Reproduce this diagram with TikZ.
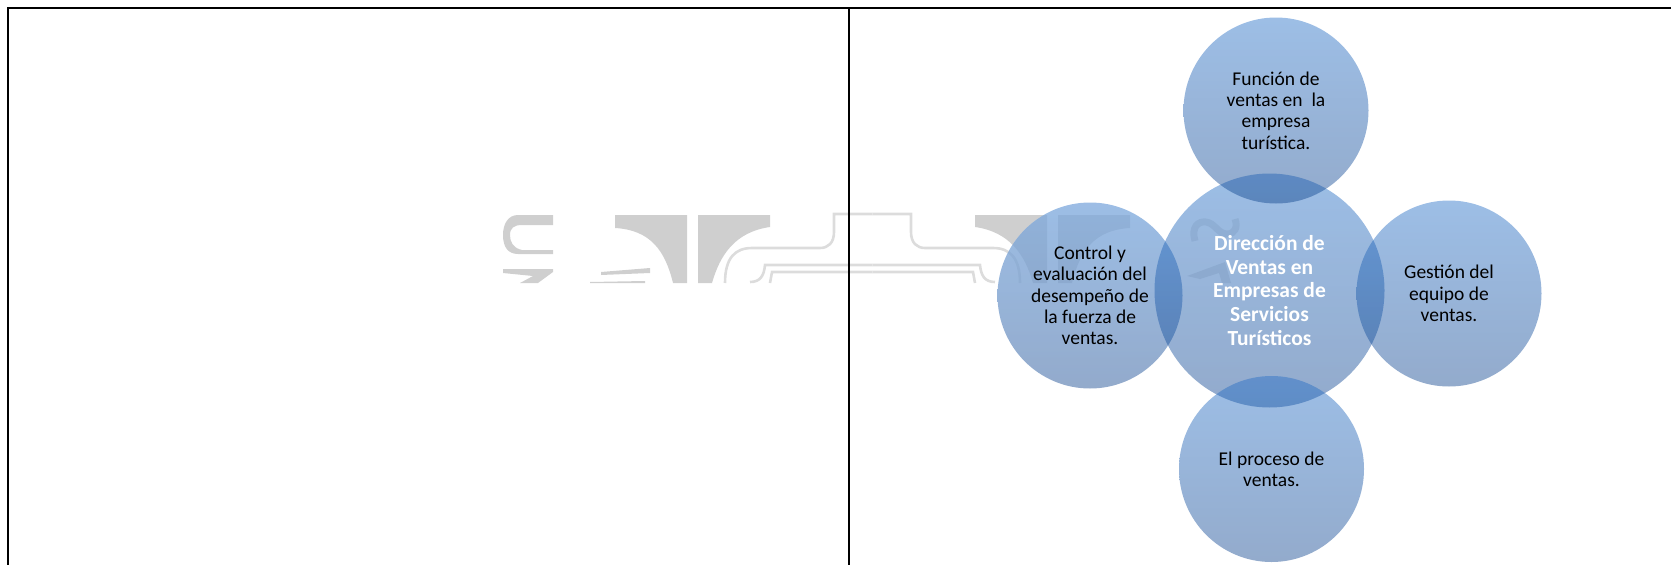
\documentclass[tikz,border=0pt]{standalone}
\usepackage{fontspec}
\setmainfont{Carlito}
\usetikzlibrary{shapes.geometric}
\definecolor{wmgray}{HTML}{CFCFCF}
\definecolor{wmline}{HTML}{DCDCDC}
\definecolor{bubtop}{HTML}{256FC7}
\definecolor{bubbot}{HTML}{0F448E}

\begin{document}
\begin{tikzpicture}[
      x=1pt,y=-1pt,
      every node/.style={font=\fontsize{19.5}{21.3}\selectfont},
      bub/.style={ellipse,inner sep=0pt,align=center,text=black,
        top color=bubtop,bottom color=bubbot,fill opacity=0.45,text opacity=1,
        minimum width=185pt,minimum height=186pt},
      ctr/.style={bub,text=white,minimum width=230pt,minimum height=234pt,
        font=\fontsize{21.5}{23.8}\selectfont\bfseries},
      wm/.style={fill=wmgray},
      wml/.style={draw=wmline,line width=2.6pt},
      veil/.style={fill=white,fill opacity=0.6}
    ]
    \useasboundingbox (0,0) rectangle (1671,565);
    % watermark, cut off at its lower edge
    \foreach \sx/\dx in {1/0,-1/1745}{
      \begin{scope}[xshift=\dx,xscale=\sx]
        \fill[wm] (615,215) -- (687,215) -- (687,283) -- (673,283)
          .. controls (665,250) and (650,230) .. (615,228) -- cycle;
        \fill[wm] (698,215) -- (770,215) -- (770,227)
          .. controls (735,232) and (720,255) .. (712,283) -- (698,283) -- cycle;
        \draw[wml] (872.5,214) -- (834,214) -- (834,232)
          .. controls (834,243) and (828,248) .. (820,248) -- (752,248)
          .. controls (735,248) and (725,258) .. (725,283);
        \draw[wml] (872.5,265) -- (765,265) .. controls (764,276) and (760,282) .. (750,282);
        \draw[wml] (872.5,272) -- (772,272) -- (770,283);
      \end{scope}}
    \fill[wm] (553,215) -- (518,215) .. controls (508,215) and (503,224) .. (503,235)
      .. controls (503,247) and (508,254) .. (518,254) -- (553,254) -- (553,250) -- (522,250)
      .. controls (513,248) and (510,242) .. (510,235) .. controls (510,228) and (514,225) .. (522,225)
      -- (553,225) -- cycle;
    \fill[wm] (503,269) -- (553,269) -- (553,272) -- (538,283) -- (520,283) -- (533,276) -- (503,273) -- cycle;
    \fill[wm] (601,272) -- (650,268) -- (650,273) -- (601,275) -- cycle;
    \fill[wm] (590,282) -- (645,281) -- (645,283) -- (590,283) -- cycle;
    \draw[wmgray,line width=7pt] (1195,241) .. controls (1191,227) and (1198,221) .. (1206,222)
      .. controls (1215,223) and (1218,234) .. (1227,234) .. controls (1235,234) and (1238,227) .. (1235,219);
    \fill[wm] (1187,276) -- (1225,262) -- (1231,283) -- (1222,283) -- (1219,273) -- (1200,279) -- cycle;
    % watermark shows only faintly through the circles
    \fill[veil] (1090,295.5) ellipse [x radius=92.5,y radius=93];
    \fill[veil] (1269.5,290.5) ellipse [x radius=115,y radius=117];
    % frame
    \draw[line width=2pt] (8,565) -- (8,8) -- (1671,8);
    \draw[line width=2pt] (849,8) -- (849,565);
    % circles
    \node[ctr] (dir) at (1269.5,290.5) {Dirección de\\Ventas en\\Empresas de\\Servicios\\Turísticos};
    \node[bub] (fun) at (1276,110.5) {Función de\\ventas en~~la\\empresa\\turística.};
    \node[bub] (ges) at (1449,293.5) {Gestión del\\equipo de\\ventas.};
    \node[bub] (con) at (1090,295.5) {Control y\\evaluación del\\desempeño de\\la fuerza de\\ventas.};
    \node[bub] (pro) at (1271.5,469) {El proceso de\\ventas.};
  \end{tikzpicture}
\end{document}
